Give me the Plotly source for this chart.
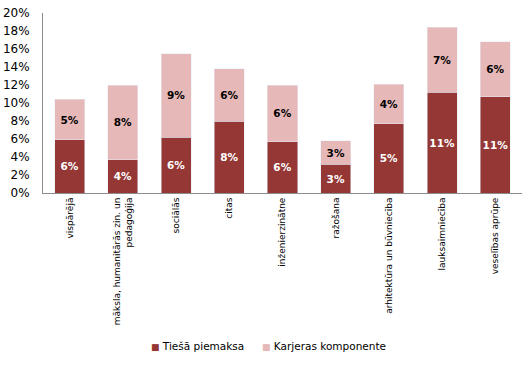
import plotly.graph_objects as go

categories = [
    "vispārējā",
    "māksla, humanitārās zin. un<br>pedagoģija",
    "sociālās",
    "citas",
    "inženierzinātne",
    "ražošana",
    "arhitektūra un būvniecība",
    "lauksaimniecība",
    "veselības aprūpe",
]
tiesa_piemaksa = [0.059, 0.037, 0.062, 0.080, 0.057, 0.032, 0.077, 0.112, 0.107]
karjeras_komponente = [0.045, 0.083, 0.093, 0.058, 0.063, 0.026, 0.044, 0.072, 0.061]
tiesa_labels = ["6%", "4%", "6%", "8%", "6%", "3%", "5%", "11%", "11%"]
karjeras_labels = ["5%", "8%", "9%", "6%", "6%", "3%", "4%", "7%", "6%"]

series_names = ["Tiešā piemaksa", "Karjeras komponente"]
colors = ["#953735", "#E6B8B7"]
text_colors = ["white", "black"]

FONT = "DejaVu Sans"

fig = go.Figure()
for name, vals, labels, col, tcol in zip(series_names,
                                         [tiesa_piemaksa, karjeras_komponente],
                                         [tiesa_labels, karjeras_labels],
                                         colors, text_colors):
    fig.add_trace(go.Bar(
        x=categories, y=vals, name=name, marker_color=col,
        text=labels, textposition="inside", insidetextanchor="middle",
        textangle=0, constraintext="none",
        textfont=dict(family=FONT, size=10.5, color=tcol, weight="bold"),
        showlegend=False, hoverinfo="skip",
    ))

# legend drawn as annotations (small square swatch + label)
legend_x = [0.222, 0.452]
for name, col, lx in zip(series_names, colors, legend_x):
    fig.add_annotation(
        xref="paper", yref="paper", x=lx, y=-0.851,
        xanchor="left", yanchor="middle", showarrow=False,
        text=f"<span style='color:{col};font-size:9px'>■</span> {name}",
        font=dict(family=FONT, size=10.5, color="black"),
    )

fig.update_layout(
    width=528, height=366,
    barmode="stack", bargap=0.436,
    plot_bgcolor="white", paper_bgcolor="white",
    margin=dict(l=43, r=6, t=13, b=173, autoexpand=False),
    font=dict(family=FONT, size=12, color="black"),
    showlegend=False,
)
fig.update_xaxes(showline=True, linecolor="#8c8c8c", linewidth=1, ticks="",
                 tickangle=-90, tickfont=dict(family=FONT, size=9),
                 showgrid=False, automargin=False)
fig.update_yaxes(range=[0, 0.2], dtick=0.02, tickformat=".0%", showgrid=False,
                 showline=True, linecolor="#8c8c8c", linewidth=1, ticks="",
                 zeroline=False, tickfont=dict(family=FONT, size=12),
                 ticklabelstandoff=10, automargin=False)

fig.write_html("out.html", config={"displayModeBar": False},
               post_script="document.body.style.margin='0';")
